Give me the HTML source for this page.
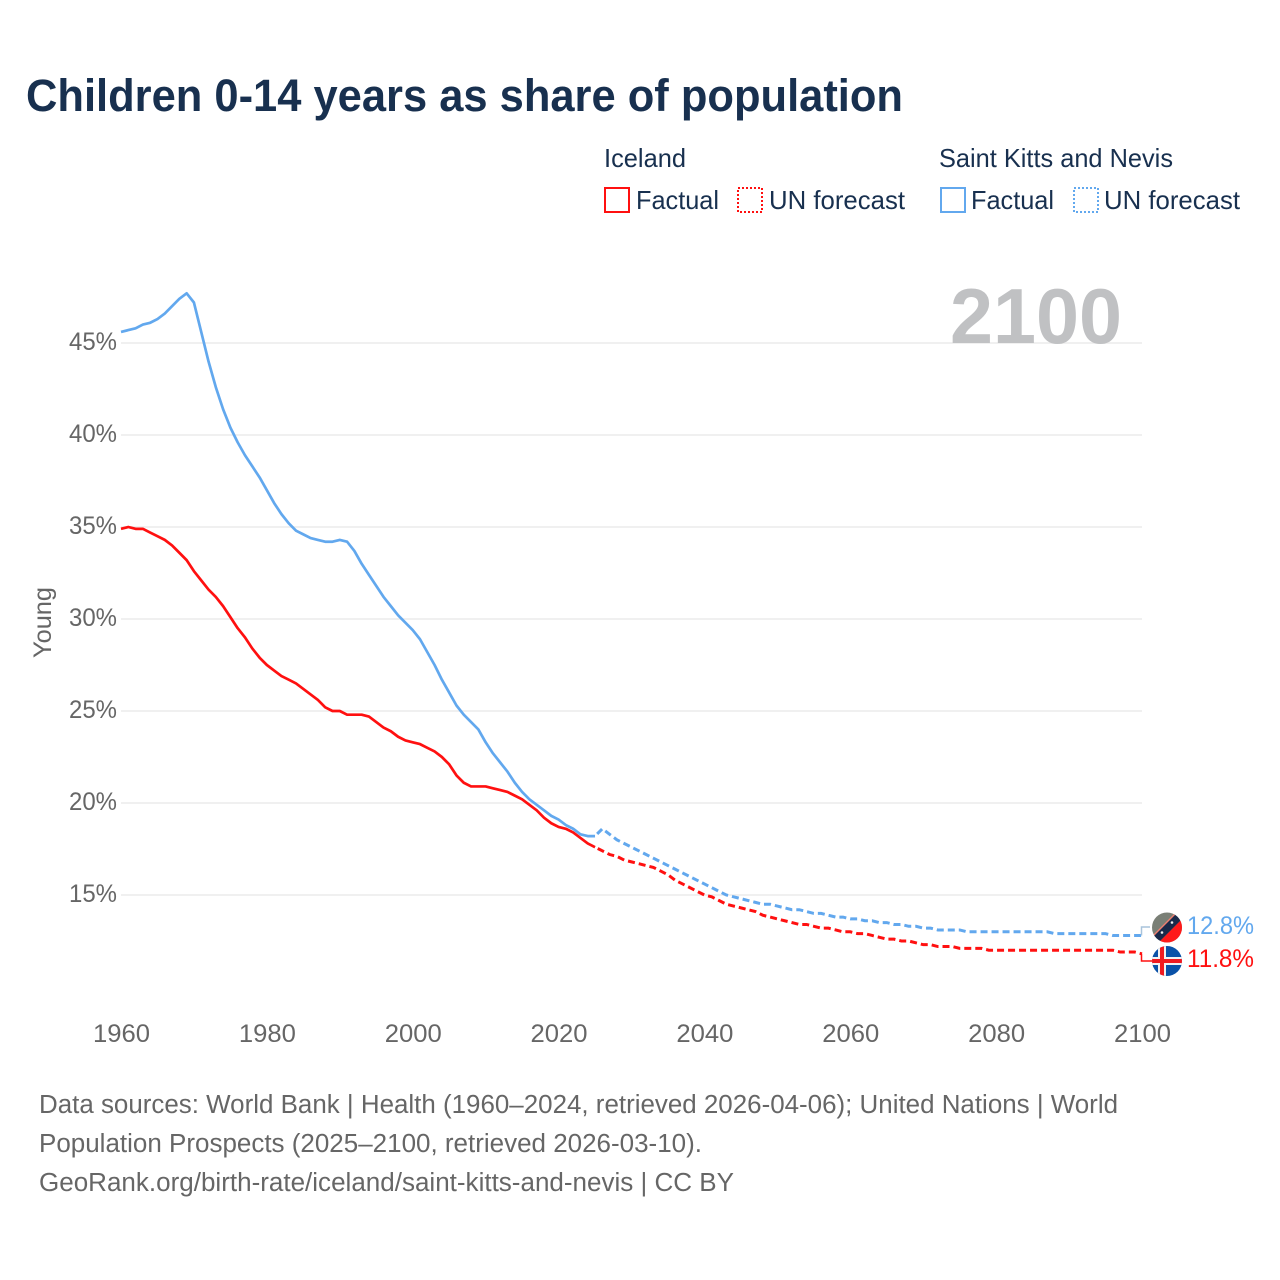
<!DOCTYPE html>
<html lang="en">
<head>
<meta charset="utf-8">
<title>Children 0-14 years as share of population</title>
<style>
html,body{margin:0;padding:0;background:#fff;}
svg{display:block;}
text{font-family:"Liberation Sans",sans-serif;}
</style>
</head>
<body>
<svg id="chart" width="1280" height="1280" viewBox="0 0 1280 1280" xmlns="http://www.w3.org/2000/svg">
  <defs>
    <clipPath id="flag-clip-kn"><circle cx="1167" cy="927.5" r="15"/></clipPath>
    <clipPath id="flag-clip-is"><circle cx="1167" cy="961" r="15"/></clipPath>
  </defs>
  <rect width="1280" height="1280" fill="#fff"/>
  <text x="26" y="111" font-size="45" font-weight="700" fill="#18304f" textLength="877" lengthAdjust="spacingAndGlyphs">Children 0-14 years as share of population</text>

  <g font-size="26" fill="#18304f">
    <text x="604" y="167" textLength="82" lengthAdjust="spacingAndGlyphs">Iceland</text>
    <text x="939" y="167" textLength="234" lengthAdjust="spacingAndGlyphs">Saint Kitts and Nevis</text>
    <rect x="605" y="188" width="24" height="24" fill="none" stroke="#ff1010" stroke-width="2"/>
    <text x="636" y="209" textLength="83" lengthAdjust="spacingAndGlyphs">Factual</text>
    <rect x="738" y="188" width="24" height="24" fill="none" stroke="#ff1010" stroke-width="2" stroke-dasharray="2 2"/>
    <text x="769" y="209" textLength="136" lengthAdjust="spacingAndGlyphs">UN forecast</text>
    <rect x="941" y="188" width="24" height="24" fill="none" stroke="#62a8ee" stroke-width="2"/>
    <text x="971" y="209" textLength="83" lengthAdjust="spacingAndGlyphs">Factual</text>
    <rect x="1074" y="188" width="24" height="24" fill="none" stroke="#62a8ee" stroke-width="2" stroke-dasharray="2 2"/>
    <text x="1104" y="209" textLength="136" lengthAdjust="spacingAndGlyphs">UN forecast</text>
  </g>

  <g id="grid"></g>
  <text x="950" y="343" font-size="78" font-weight="700" fill="#c0c1c3" textLength="172" lengthAdjust="spacingAndGlyphs">2100</text>
  <g id="yticks" font-size="25" fill="#666"></g>
  <g id="xticks" font-size="25" fill="#666"></g>
  <text transform="translate(51 658) rotate(-90)" font-size="25" fill="#666" textLength="71" lengthAdjust="spacingAndGlyphs">Young</text>
  <g id="series"></g>

  <g clip-path="url(#flag-clip-kn)">
    <rect x="1150" y="910" width="34" height="36" fill="#7a7f76"/>
    <polygon points="1186,915 1186,946 1155,946" fill="#ff1a1a"/>
    <polygon points="1181,908 1187,914 1157,944 1151,938" fill="#1a2a4a"/>
    <line x1="1180" y1="909" x2="1150" y2="939" stroke="#f08070" stroke-width="1.4"/>
    <circle cx="1172" cy="922.5" r="1.3" fill="#eee"/>
    <circle cx="1162" cy="932.5" r="1.3" fill="#eee"/>
  </g>
  <g clip-path="url(#flag-clip-is)">
    <rect x="1150" y="944" width="34" height="34" fill="#0a52a8"/>
    <rect x="1150" y="957" width="34" height="8" fill="#f2f2f2"/>
    <rect x="1158" y="944" width="8" height="34" fill="#f2f2f2"/>
    <rect x="1150" y="959" width="34" height="4" fill="#f01a20"/>
    <rect x="1160" y="944" width="4" height="34" fill="#f01a20"/>
  </g>
  <g id="endlabels" font-size="25"></g>

  <g font-size="25.5" fill="#666">
    <text x="39" y="1113" textLength="1079" lengthAdjust="spacingAndGlyphs">Data sources: World Bank | Health (1960–2024, retrieved 2026-04-06); United Nations | World</text>
    <text x="39" y="1152" textLength="663" lengthAdjust="spacingAndGlyphs">Population Prospects (2025–2100, retrieved 2026-03-10).</text>
    <text x="39" y="1191" textLength="695" lengthAdjust="spacingAndGlyphs">GeoRank.org/birth-rate/iceland/saint-kitts-and-nevis | CC BY</text>
  </g>
</svg>
<script>
const factualStartYear = 1960;
const forecastStartYear = 2025;
const kittsFactual = [45.6,45.7,45.8,46.0,46.1,46.3,46.6,47.0,47.4,47.7,47.2,45.6,44.0,42.6,41.4,40.4,39.6,38.9,38.3,37.7,37.0,36.3,35.7,35.2,34.8,34.6,34.4,34.3,34.2,34.2,34.3,34.2,33.7,33.0,32.4,31.8,31.2,30.7,30.2,29.8,29.4,28.9,28.2,27.5,26.7,26.0,25.3,24.8,24.4,24.0,23.3,22.7,22.2,21.7,21.1,20.6,20.2,19.9,19.6,19.3,19.1,18.8,18.6,18.3,18.2,18.2];
const icelandFactual = [34.9,35.0,34.9,34.9,34.7,34.5,34.3,34.0,33.6,33.2,32.6,32.1,31.6,31.2,30.7,30.1,29.5,29.0,28.4,27.9,27.5,27.2,26.9,26.7,26.5,26.2,25.9,25.6,25.2,25.0,25.0,24.8,24.8,24.8,24.7,24.4,24.1,23.9,23.6,23.4,23.3,23.2,23.0,22.8,22.5,22.1,21.5,21.1,20.9,20.9,20.9,20.8,20.7,20.6,20.4,20.2,19.9,19.6,19.2,18.9,18.7,18.6,18.4,18.1,17.8,17.6];
const kittsForecast = [18.2,18.6,18.3,18.0,17.8,17.6,17.4,17.2,17.0,16.8,16.6,16.4,16.2,16.0,15.8,15.6,15.4,15.2,15.0,14.9,14.8,14.7,14.6,14.5,14.5,14.4,14.3,14.2,14.2,14.1,14.0,14.0,13.9,13.8,13.8,13.7,13.7,13.6,13.6,13.5,13.5,13.4,13.4,13.3,13.3,13.2,13.2,13.1,13.1,13.1,13.1,13.0,13.0,13.0,13.0,13.0,13.0,13.0,13.0,13.0,13.0,13.0,13.0,12.9,12.9,12.9,12.9,12.9,12.9,12.9,12.9,12.8,12.8,12.8,12.8,12.8];
const icelandForecast = [17.6,17.4,17.2,17.1,16.9,16.8,16.7,16.6,16.5,16.3,16.1,15.8,15.6,15.4,15.2,15.0,14.9,14.7,14.5,14.4,14.3,14.2,14.1,13.9,13.8,13.7,13.6,13.5,13.4,13.4,13.3,13.2,13.2,13.1,13.0,13.0,12.9,12.9,12.8,12.7,12.6,12.6,12.5,12.5,12.4,12.3,12.3,12.2,12.2,12.2,12.1,12.1,12.1,12.1,12.0,12.0,12.0,12.0,12.0,12.0,12.0,12.0,12.0,12.0,12.0,12.0,12.0,12.0,12.0,12.0,12.0,12.0,11.9,11.9,11.9,11.8];
const yTickValues = [15,20,25,30,35,40,45];
const yTickLabels = ["15%","20%","25%","30%","35%","40%","45%"];
const xTickValues = [1960,1980,2000,2020,2040,2060,2080,2100];
const xTickLabels = ["1960","1980","2000","2020","2040","2060","2080","2100"];
const endLabelTexts = ["12.8%","11.8%"];

const NS = "http://www.w3.org/2000/svg";
const RED = "#ff1010";
const BLUE = "#62a8ee";
function xScale(year){ return 121 + (year - 1960) * (1142 - 121) / 140; }
function yScale(v){ return 895 - (v - 15) * 18.4; }
function make(tag, attrs, parent){
  const el = document.createElementNS(NS, tag);
  for (const k in attrs) el.setAttribute(k, attrs[k]);
  parent.appendChild(el);
  return el;
}
function pathFrom(values, startYear){
  return values.map((v, i) => (i ? "L" : "M") + xScale(startYear + i).toFixed(2) + " " + yScale(v).toFixed(2)).join(" ");
}

const grid = document.getElementById("grid");
const yticks = document.getElementById("yticks");
yTickValues.forEach((v, i) => {
  const line = make("line", {x1: 121, x2: 1142, y1: yScale(v), y2: yScale(v), stroke: "#f0f0f0", "stroke-width": 2}, grid);
  
  
  const t = make("text", {x: 117, y: yScale(v) + 7, "text-anchor": "end", textLength: 48, lengthAdjust: "spacingAndGlyphs"}, yticks);
  
  
  t.textContent = yTickLabels[i];
});

const xticks = document.getElementById("xticks");
xTickValues.forEach((v, i) => {
  const t = make("text", {x: xScale(v) - 28, y: 1042, textLength: 57, lengthAdjust: "spacingAndGlyphs"}, xticks);
  
  
  t.textContent = xTickLabels[i];
});

const series = document.getElementById("series");
const kittsLine = make("path", {d: pathFrom(kittsFactual, factualStartYear), fill: "none", stroke: BLUE, "stroke-width": 2.7, "stroke-linejoin": "round"}, series);


const icelandLine = make("path", {d: pathFrom(icelandFactual, factualStartYear), fill: "none", stroke: RED, "stroke-width": 2.7, "stroke-linejoin": "round"}, series);


const kittsDash = make("path", {d: pathFrom(kittsForecast, forecastStartYear), fill: "none", stroke: BLUE, "stroke-width": 3, "stroke-dasharray": "7 4", "stroke-dashoffset": 8}, series);


const icelandDash = make("path", {d: pathFrom(icelandForecast, forecastStartYear), fill: "none", stroke: RED, "stroke-width": 3, "stroke-dasharray": "7 4", "stroke-dashoffset": 8}, series);



const kittsEnd = yScale(kittsForecast[kittsForecast.length - 1]);
const icelandEnd = yScale(icelandForecast[icelandForecast.length - 1]);
const kittsConn = make("path", {d: "M1141.5 " + kittsEnd.toFixed(1) + " V927 H1150", fill: "none", stroke: "#a9c4dc", "stroke-width": 1.5}, series);


const icelandConn = make("path", {d: "M1141.5 " + icelandEnd.toFixed(1) + " V961 H1152", fill: "none", stroke: RED, "stroke-width": 1.5}, series);



const endlabels = document.getElementById("endlabels");
const kittsLabel = make("text", {x: 1187, y: 934, fill: BLUE, textLength: 67, lengthAdjust: "spacingAndGlyphs"}, endlabels);


kittsLabel.textContent = endLabelTexts[0];
const icelandLabel = make("text", {x: 1187, y: 967, fill: RED, textLength: 67, lengthAdjust: "spacingAndGlyphs"}, endlabels);


icelandLabel.textContent = endLabelTexts[1];
</script>
</body>
</html>
